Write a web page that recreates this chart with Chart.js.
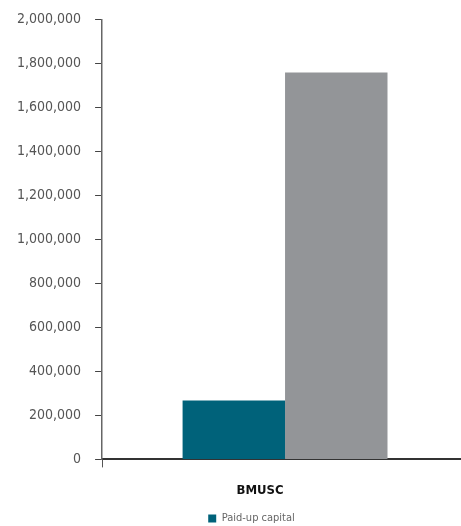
<!DOCTYPE html>
<html>
<head>
<meta charset="utf-8">
<script src="https://cdn.jsdelivr.net/npm/chart.js@4"></script>
<style>
	html, body { margin: 0; padding: 0; background: #fff; overflow: hidden; }
	#wrap { width: 468px; height: 539px; margin-top: -3px; }
</style>
</head>
<body>
<div id="wrap"><canvas id="myChart"></canvas></div>
<script>
const categories = ['BMUSC']
const paidUpCapital = [268000]
const otherSeries = [1759000]
const yTicks = [0, 200000, 400000, 600000, 800000, 1000000, 1200000, 1400000, 1600000, 1800000, 2000000]

const fontFamily = '"DejaVu Sans Condensed", "Roboto", sans-serif'
Chart.defaults.font.family = fontFamily

// nudge the legend a bit right of centre, like the original layout
const legendShift = {
	id: 'legendShift',
	afterLayout(chart) {
		if (chart.legend) {
			chart.legend.left += 16
			chart.legend.right += 16
			chart.legend.top -= 2
			chart.legend.bottom -= 2
		}
	}
}

const ctx = document.getElementById('myChart')
var chart = new Chart(ctx, {
	type: 'bar',
	data: {
		labels: categories,
		datasets: [{
			label: 'Paid-up capital',
			data: paidUpCapital,
			backgroundColor: '#00627a',
			categoryPercentage: 0.56,
			barPercentage: 1
		}, {
			label: 'Total',
			data: otherSeries,
			backgroundColor: '#939598',
			categoryPercentage: 0.56,
			barPercentage: 1
		}]
	},
	plugins: [legendShift],
	options: {
		responsive: true,
		maintainAspectRatio: false,
		animation: false,
		layout: { padding: { top: 7, left: 3, right: 0, bottom: 0 } },
		plugins: {
			legend: {
				position: 'bottom',
				labels: {
					boxWidth: 8,
					boxHeight: 8,
					padding: 2,
					color: '#666',
					font: { size: 11 },
					filter: item => item.datasetIndex === 0
				}
			},
			tooltip: { enabled: false }
		},
		scales: {
			x: {
				offset: true,
				border: { display: true, color: '#333', width: 2 },
				grid: { display: true, drawOnChartArea: false, tickLength: 8, color: '#555' },
				ticks: {
					color: '#111',
					labelOffset: -25,
					padding: 15,
					font: { size: 13, weight: 'bold' }
				}
			},
			y: {
				min: 0,
				max: 2000000,
				afterBuildTicks: axis => { axis.ticks = yTicks.map(v => ({ value: v })) },
				border: { display: true, color: '#666', width: 1.5 },
				grid: { display: true, drawOnChartArea: false, tickLength: 7, color: '#444' },
				ticks: {
					color: '#555',
					padding: 14,
					font: { size: 14 },
					callback: value => value.toLocaleString('en-US')
				}
			}
		}
	}
})
</script>
</body>
</html>
